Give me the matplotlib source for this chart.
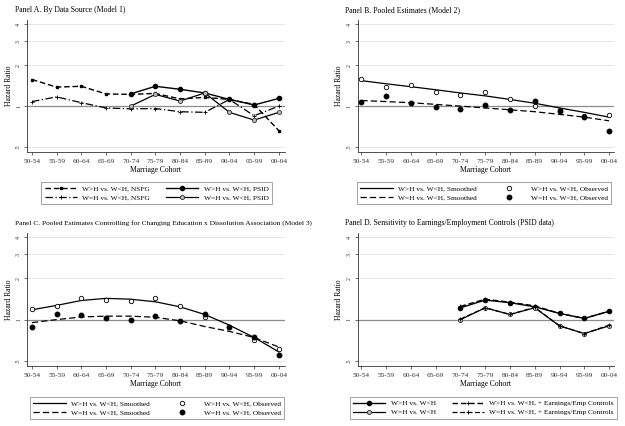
import matplotlib
matplotlib.use("Agg")
import matplotlib.pyplot as plt
from matplotlib.ticker import FixedLocator, NullLocator

plt.rcParams['font.family'] = ['Liberation Serif', 'DejaVu Serif']

cohorts = ["50-54", "55-59", "60-64", "65-69", "70-74", "75-79", "80-84", "85-89", "90-94", "95-99", "00-04"]

# Panel A
a_nsfg_gt = [1.57, 1.38, 1.40, 1.23, 1.22, 1.24, 1.13, 1.16, 1.12, 1.03, 0.66]
a_nsfg_eq = [1.08, 1.17, 1.06, 0.97, 0.955, 0.96, 0.91, 0.90, 1.12, 0.85, 1.00]
a_psid_gt = [None, None, None, None, 1.23, 1.40, 1.33, 1.25, 1.12, 1.02, 1.14]
a_psid_eq = [None, None, None, None, 1.00, 1.22, 1.09, 1.25, 0.90, 0.79, 0.90]

# Panel B
b_smooth_gt = [1.54, 1.46, 1.39, 1.32, 1.25, 1.19, 1.12, 1.05, 0.97, 0.90, 0.83]
b_smooth_eq = [1.10, 1.08, 1.06, 1.03, 1.00, 0.97, 0.94, 0.91, 0.87, 0.83, 0.78]
b_obs_gt = [1.58, 1.39, 1.43, 1.28, 1.20, 1.27, 1.13, 1.00, 0.93, 0.84, 0.86]
b_obs_eq = [1.08, 1.18, 1.06, 0.98, 0.945, 1.02, 0.94, 1.09, 0.92, 0.835, 0.66]

# Panel C
c_smooth_gt = [1.18, 1.27, 1.38, 1.43, 1.41, 1.35, 1.24, 1.09, 0.91, 0.74, 0.58]
c_smooth_eq = [0.95, 1.00, 1.045, 1.06, 1.06, 1.04, 0.98, 0.89, 0.82, 0.74, 0.63]
c_obs_gt = [1.20, 1.25, 1.45, 1.39, 1.36, 1.43, 1.25, 1.05, 0.89, 0.705, 0.61]
c_obs_eq = [0.88, 1.10, 1.075, 1.03, 1.00, 1.06, 0.98, 1.10, 0.89, 0.75, 0.55]

# Panel D
d_gt = [None, None, None, None, 1.22, 1.39, 1.33, 1.24, 1.11, 1.02, 1.15]
d_eq = [None, None, None, None, 1.00, 1.22, 1.09, 1.22, 0.90, 0.79, 0.90]
d_gt_ctrl = [None, None, None, None, 1.25, 1.41, 1.34, 1.26, 1.11, 1.02, 1.15]
d_eq_ctrl = [None, None, None, None, 1.01, 1.22, 1.09, 1.23, 0.90, 0.79, 0.91]

yticks = [0.5, 1, 2, 3, 4]
ytick_labels = [".5", "1", "2", "3", "4"]

W, H = 625, 426
fig = plt.figure(figsize=(W / 100, H / 100), dpi=100)


def px_axes(left, top, right, bottom):
    return fig.add_axes([left / W, 1 - bottom / H, (right - left) / W, (bottom - top) / H])


def xy(vals):
    xs = [i for i, v in enumerate(vals) if v is not None]
    ys = [v for v in vals if v is not None]
    return xs, ys


def style(ax, xlim):
    ax.set_yscale('log')
    ax.set_ylim(0.46, 4.3)
    ax.set_xlim(*xlim)
    ax.yaxis.set_major_locator(FixedLocator(yticks))
    ax.yaxis.set_minor_locator(NullLocator())
    ax.set_yticklabels(ytick_labels, rotation=90, va='center', fontsize=4.3)
    ax.set_xticks(range(len(cohorts)))
    ax.set_xticklabels(cohorts, fontsize=5.3)
    for s in ['top', 'right']:
        ax.spines[s].set_visible(False)
    for s in ['left', 'bottom']:
        ax.spines[s].set_linewidth(0.6)
        ax.spines[s].set_color('#333333')
    ax.tick_params(axis='both', length=2.5, width=0.5, pad=1.8, colors='#333333')
    ax.tick_params(axis='x', pad=2.6)
    for v in [0.5, 2, 3, 4]:
        ax.axhline(v, color='#e6e6e6', lw=0.7, zorder=0)
    ax.axhline(1, color='#8c8c8c', lw=0.9, zorder=1)
    ax.set_xlabel("Marriage Cohort", fontsize=5.5, labelpad=1.5)
    ax.set_ylabel("Hazard Ratio", fontsize=5.5, labelpad=2.5)


def legend(ax, handles, labels, cx, top):
    leg = fig.legend(handles, labels, ncol=2, loc='upper center',
                     bbox_to_anchor=(cx / W, 1 - top / H), fontsize=5.3,
                     frameon=True, fancybox=False, handlelength=4.4,
                     columnspacing=2.2, borderpad=0.45, labelspacing=0.4,
                     handletextpad=0.7)
    leg.get_frame().set_edgecolor('#777777')
    leg.get_frame().set_linewidth(0.6)
    return leg


xA = (-0.2, 10.25)
xB = (-0.15, 10.2)
TFS = 5.6

# ---------- Panel A ----------
axA = px_axes(27, 20, 285, 152)
style(axA, xA)
l1, = axA.plot(*xy(a_nsfg_gt), ls=(0, (4, 2)), color='black', lw=1.0,
               marker='s', ms=1.5)
l2, = axA.plot(*xy(a_nsfg_eq), ls=(0, (6, 2, 1, 2)), color='black', lw=0.9,
               marker='+', ms=2.5, mew=0.6)
l3, = axA.plot(*xy(a_psid_gt), ls='-', color='black', lw=1.0,
               marker='o', ms=3, mfc='black')
l4, = axA.plot(*xy(a_psid_eq), ls='-', color='black', lw=0.9,
               marker='o', ms=3, mfc='#bbbbbb', mec='#333333', mew=0.6)
legend(axA, [l1, l2, l3, l4],
       ["W>H vs. W<H, NSFG", "W=H vs. W<H, NSFG", "W>H vs. W<H, PSID", "W=H vs. W<H, PSID"],
       156.5, 178)
fig.text(15 / W, 1 - 10 / H, "Panel A. By Data Source (Model 1)", fontsize=TFS, va='center', ha='left')

# ---------- Panel B ----------
axB = px_axes(357.7, 20, 614, 152)
style(axB, xB)
m1, = axB.plot(range(len(cohorts)), b_smooth_gt, ls='-', color='black', lw=0.9)
m2, = axB.plot(range(len(cohorts)), b_smooth_eq, ls=(0, (5, 2.5)), color='black', lw=0.9)
m3, = axB.plot(range(len(cohorts)), b_obs_gt, ls='none', marker='o', ms=3.2,
               mfc='white', mec='black', mew=0.6)
m4, = axB.plot(range(len(cohorts)), b_obs_eq, ls='none', marker='o', ms=3.2,
               mfc='black', mec='black')
legend(axB, [m1, m2, m3, m4],
       ["W>H vs. W<H, Smoothed", "W=H vs. W<H, Smoothed", "W>H vs. W<H, Observed", "W=H vs. W<H, Observed"],
       484, 178)
fig.text(345 / W, 1 - 10 / H, "Panel B. Pooled Estimates (Model 2)", fontsize=TFS, va='center', ha='left')

# ---------- Panel C ----------
axC = px_axes(27, 233, 285, 365.7)
style(axC, xA)
n1, = axC.plot(range(len(cohorts)), c_smooth_gt, ls='-', color='black', lw=0.9)
n2, = axC.plot(range(len(cohorts)), c_smooth_eq, ls=(0, (5, 2.5)), color='black', lw=0.9)
n3, = axC.plot(range(len(cohorts)), c_obs_gt, ls='none', marker='o', ms=3.2,
               mfc='white', mec='black', mew=0.6)
n4, = axC.plot(range(len(cohorts)), c_obs_eq, ls='none', marker='o', ms=3.2,
               mfc='black', mec='black')
legend(axC, [n1, n2, n3, n4],
       ["W>H vs. W<H, Smoothed", "W=H vs. W<H, Smoothed", "W>H vs. W<H, Observed", "W=H vs. W<H, Observed"],
       157, 393)
fig.text(15 / W, 1 - 223 / H,
         "Panel C. Pooled Estimates Controlling for Changing Education x Dissolution Association (Model 3)",
         fontsize=TFS - 0.3, va='center', ha='left')

# ---------- Panel D ----------
axD = px_axes(357.7, 233, 614, 365.7)
style(axD, xB)
k1, = axD.plot(*xy(d_gt), ls='-', color='black', lw=1.0, marker='o', ms=3, mfc='black')
k2, = axD.plot(*xy(d_eq), ls='-', color='black', lw=0.9, marker='o', ms=3,
               mfc='#bbbbbb', mec='#333333', mew=0.6)
k3, = axD.plot(*xy(d_gt_ctrl), ls=(0, (4, 2)), color='black', lw=1.0, marker='+', ms=2.5, mew=0.6)
k4, = axD.plot(*xy(d_eq_ctrl), ls=(0, (4, 2)), color='black', lw=0.9, marker='+', ms=2.5, mew=0.6)
legend(axD, [k1, k2, k3, k4],
       ["W>H vs. W<H", "W=H vs. W<H", "W>H vs. W<H, + Earnings/Emp Controls", "W=H vs. W<H, + Earnings/Emp Controls"],
       483.5, 393)
fig.text(345 / W, 1 - 223 / H, "Panel D. Sensitivity to Earnings/Employment Controls (PSID data)",
         fontsize=TFS, va='center', ha='left')

fig.savefig("out.png", dpi=100)
